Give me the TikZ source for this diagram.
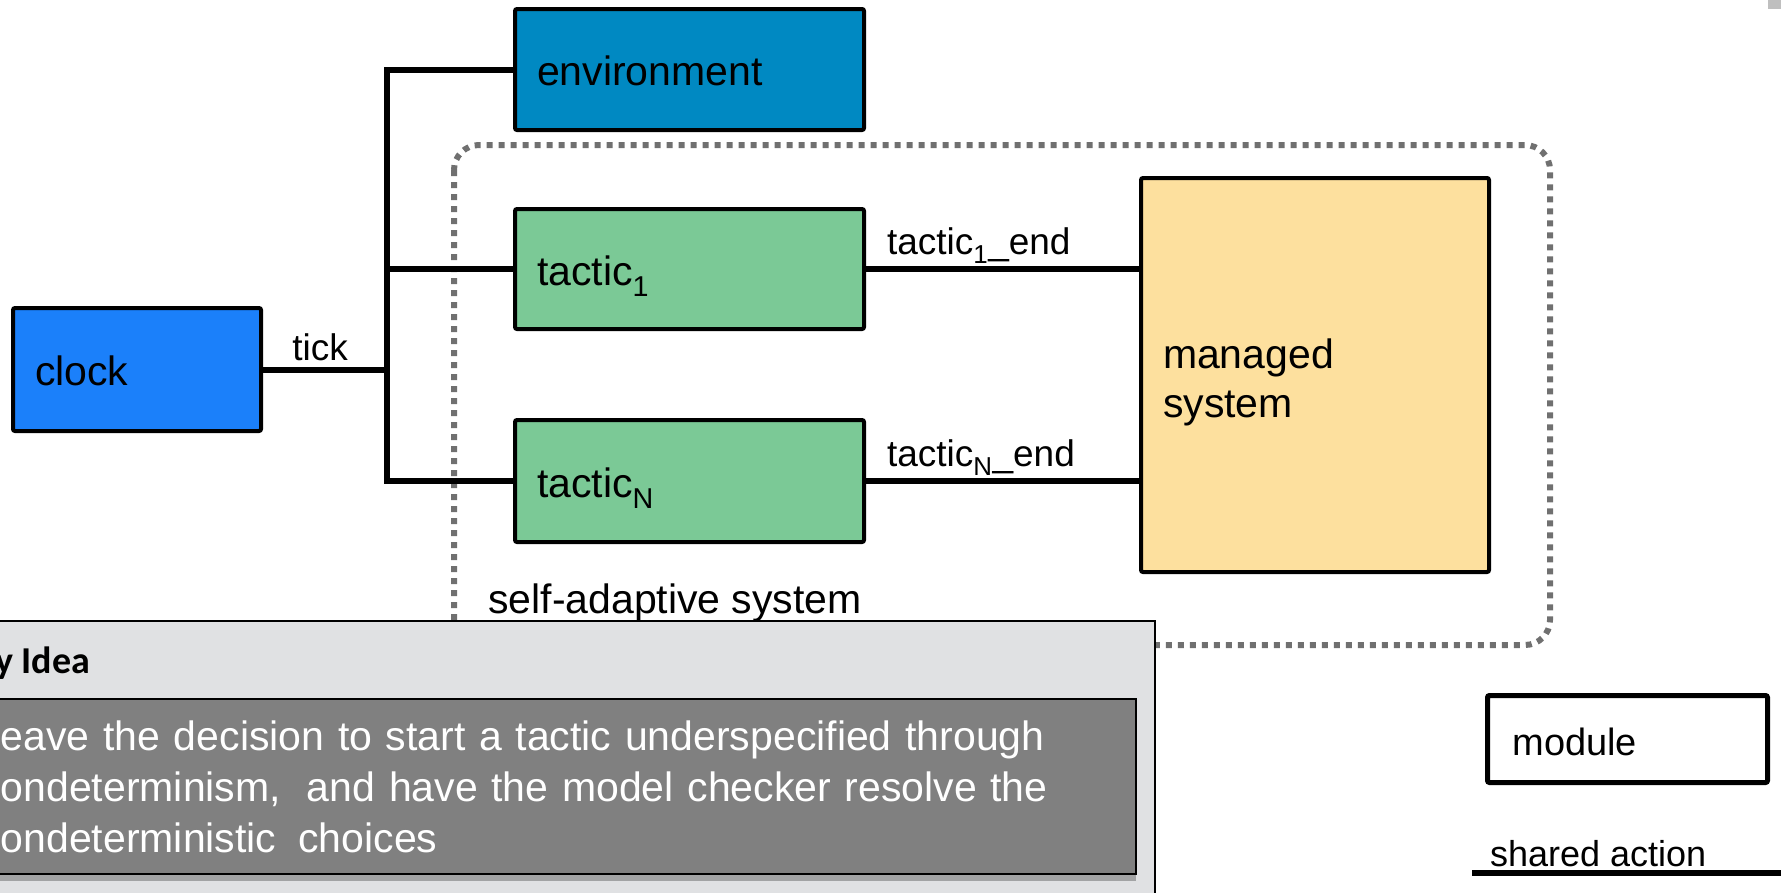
\documentclass[tikz,border=0pt]{standalone}
\usepackage{fontspec}
\setmainfont{Liberation Sans}
\newfontfamily\keyfont{Carlito}
\usetikzlibrary{shadows}

\definecolor{envblue}{RGB}{0,137,194}
\definecolor{clockblue}{RGB}{27,128,250}
\definecolor{tacticgreen}{RGB}{123,201,150}
\definecolor{managedyellow}{RGB}{253,224,158}
\definecolor{keylight}{RGB}{224,225,227}
\definecolor{keydark}{RGB}{128,128,128}
\definecolor{dotgray}{RGB}{112,112,112}

\newcommand{\bigtxt}{\fontsize{41}{49}\selectfont}
\newcommand{\smalltxt}{\fontsize{37}{44}\selectfont}

\tikzset{
  modbox/.style={draw=black, line width=4pt, rounded corners=2pt, anchor=north west,
    inner xsep=22pt, inner ysep=0pt, align=left, font=\bigtxt,
    text height=32pt, text depth=0pt},
  wire/.style={line width=6pt},
  wirelabel/.style={font=\smalltxt, inner sep=0pt}
}

\begin{document}
\begin{tikzpicture}[x=1pt, y=-1pt]
  \useasboundingbox (0,0) rectangle (1781,892);
  \clip (0,0) rectangle (1781,892);

  % corner patch
  \fill[gray!50] (1768,0) rectangle (1781,9);

  % self-adaptive system frame
  \draw[dotgray, line width=6pt, dash pattern=on 6pt off 6pt, rounded corners=25pt] (454,145) rectangle (1550,645);
  \node[anchor=base west, inner sep=0pt, font=\bigtxt] (sas) at (488,613) {self-adaptive system};

  % modules
  \node[modbox, fill=envblue, minimum width=349pt, minimum height=121pt, text width=305pt] (env) at (513,7) {environment};
  \node[modbox, fill=tacticgreen, minimum width=349pt, minimum height=120pt, text width=305pt] (t1) at (513,207) {tactic\textsubscript{1}};
  \node[modbox, fill=tacticgreen, minimum width=349pt, minimum height=122pt, text width=305pt] (tN) at (513,418) {tactic\textsubscript{N}};
  \node[modbox, fill=clockblue, minimum width=248pt, minimum height=123pt, text width=204pt] (clock) at (11,306) {clock};
  \node[modbox, fill=managedyellow, minimum width=348pt, minimum height=394pt, text width=304pt,
    text height=, text depth=] (managed) at (1139,176) {\rule{0pt}{1.1em}managed\\system};

  % shared actions
  \coordinate (bus) at (387,0);
  \draw[wire] (clock.east) -- node[wirelabel, anchor=base, xshift=-5pt, yshift=9pt] {tick} (clock.east -| bus);
  \draw[wire] (env.west) -| (bus |- tN.west) -- (tN.west);
  \draw[wire] (bus |- t1.west) -- (t1.west);
  \draw[wire] (t1.east) -- node[wirelabel, pos=0, anchor=base west, xshift=18pt, yshift=15pt] {tactic\textsubscript{1}\_end} (t1.east -| managed.west);
  \draw[wire] (tN.east) -- node[wirelabel, pos=0, anchor=base west, xshift=18pt, yshift=15pt] {tactic\textsubscript{N}\_end} (tN.east -| managed.west);

  % key idea
  \fill[keylight, draw=black, line width=2pt] (-60,621) rectangle (1155,950);
  \node[anchor=base west, inner sep=0pt, font=\keyfont\bfseries\fontsize{38}{45}\selectfont] (keyhead) at (-44,673) {Key Idea};
  \node[anchor=north west, fill=keydark, draw=black, line width=2pt,
    drop shadow={shadow xshift=0pt, shadow yshift=-7pt, opacity=0.5, fill=black!60},
    minimum width=1195pt, minimum height=175pt, inner xsep=37pt, inner ysep=0pt,
    text width=1121pt, align=left, text=white, font=\fontsize{41}{51}\selectfont] (idea) at (-60,698)
    {Leave the decision to start a tactic underspecified through\\nondeterminism,\hspace{0.3em} and have the model checker resolve the\\nondeterministic\hspace{0.2em} choices};

  % legend
  \node[modbox, line width=5pt, fill=white, minimum width=280pt, minimum height=87pt, inner xsep=25pt, text width=230pt,
    text height=33pt, font=\fontsize{38}{44}\selectfont] (legmod) at (1485,693) {module};
  \coordinate (legA) at (1472,873);
  \coordinate (legB) at (1785,873);
  \draw[wire] (legA) -- node[wirelabel, pos=0, anchor=base west, xshift=15pt, yshift=7pt, font=\fontsize{36}{43}\selectfont] {shared action} (legB);
\end{tikzpicture}
\end{document}
